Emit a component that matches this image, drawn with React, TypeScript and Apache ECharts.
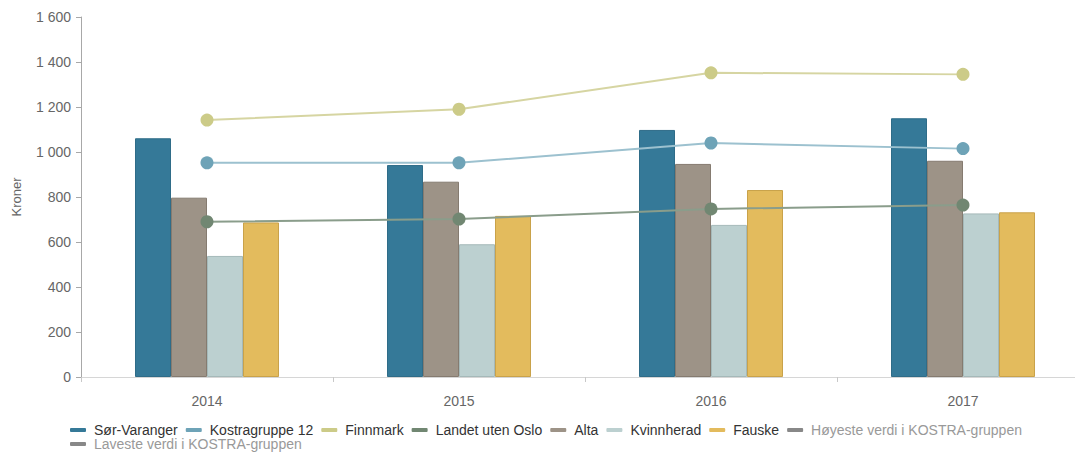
import React, { useEffect, useRef } from "react";
import * as echarts from "echarts";

const years = ["2014", "2015", "2016", "2017"];
const sorVaranger = [1061, 942, 1098, 1150];
const kostragruppe12 = [952, 952, 1040, 1015];
const finnmark = [1142, 1190, 1352, 1345];
const landetUtenOslo = [690, 702, 747, 764];
const alta = [797, 868, 947, 961];
const kvinnherad = [538, 590, 676, 727];
const fauske = [687, 716, 831, 732];
const yTicks = [0, 200, 400, 600, 800, 1000, 1200, 1400, 1600];

const FONT = "'Liberation Sans', Arial, sans-serif";

function fmt(v: number): string {
  return String(v).replace(/\B(?=(\d{3})+(?!\d))/g, " ");
}

export default function App() {
  const ref = useRef<HTMLDivElement>(null);
  useEffect(() => {
    if (!ref.current) return;
    const chart = echarts.init(ref.current, undefined, { renderer: "svg" });
    const bar = (name: string, data: number[], color: string, border: string) => ({
      name,
      type: "bar",
      data,
      barWidth: 36,
      barGap: "0%",
      z: 2,
      itemStyle: { color, borderColor: border, borderWidth: 1 },
    });
    const line = (name: string, data: number[], color: string, lineColor: string) => ({
      name,
      type: "line",
      data,
      z: 4,
      symbol: "circle",
      symbolSize: 13,
      showSymbol: true,
      itemStyle: { color },
      lineStyle: { color: lineColor, width: 2 },
    });
    const legendCommon = {
      orient: "horizontal",
      left: 70,
      padding: 0,
      icon: "roundRect",
      itemWidth: 16,
      itemHeight: 4,
      itemGap: 8,
      itemStyle: { borderWidth: 0 },
      textStyle: {
        fontFamily: FONT,
        fontSize: 14,
        color: "#333333",
        lineHeight: 16,
        padding: [0, 0, 0, 3],
      },
    };
    chart.setOption({
      animation: false,
      grid: { left: 81, top: 17, width: 1008, height: 360, containLabel: false },
      legend: [
        {
          ...legendCommon,
          top: 422,
          data: [
            "Sør-Varanger",
            "Kostragruppe 12",
            "Finnmark",
            "Landet uten Oslo",
            "Alta",
            "Kvinnherad",
            "Fauske",
            { name: "Høyeste verdi i KOSTRA-gruppen", textStyle: { color: "#999999" } },
          ],
        },
        {
          ...legendCommon,
          top: 436,
          data: [{ name: "Laveste verdi i KOSTRA-gruppen", textStyle: { color: "#999999" } }],
        },
      ],
      xAxis: {
        type: "category",
        data: years,
        axisLine: { show: true, lineStyle: { color: "#d6d6d6", width: 1 } },
        axisTick: { show: true, length: 5, lineStyle: { color: "#c8c8c8" } },
        axisLabel: { color: "#666666", fontSize: 14, fontFamily: FONT, margin: 17 },
        splitLine: { show: false },
      },
      yAxis: {
        type: "value",
        min: yTicks[0],
        max: yTicks[yTicks.length - 1],
        interval: 200,
        name: "Kroner",
        nameLocation: "middle",
        nameGap: 58,
        nameTextStyle: { color: "#666666", fontSize: 13, fontFamily: FONT },
        axisLine: { show: true, lineStyle: { color: "#a8a8a8", width: 1 } },
        axisTick: { show: true, length: 5, lineStyle: { color: "#a8a8a8" } },
        axisLabel: {
          color: "#666666",
          fontSize: 14,
          fontFamily: FONT,
          margin: 10,
          formatter: (v: number) => fmt(v),
        },
        splitLine: { show: false },
      },
      series: [
        bar("Sør-Varanger", sorVaranger, "#357998", "#2f6c88"),
        line("Kostragruppe 12", kostragruppe12, "#6ea3b7", "#9cc1cf"),
        line("Finnmark", finnmark, "#cccb88", "#d6d5a2"),
        line("Landet uten Oslo", landetUtenOslo, "#718772", "#8a9d8b"),
        bar("Alta", alta, "#9d9387", "#857b70"),
        bar("Kvinnherad", kvinnherad, "#bcd0d0", "#a5b9b9"),
        bar("Fauske", fauske, "#e3bb5d", "#c9a24a"),
        {
          name: "Høyeste verdi i KOSTRA-gruppen",
          type: "line",
          data: [],
          itemStyle: { color: "#888888" },
          lineStyle: { color: "#888888" },
        },
        {
          name: "Laveste verdi i KOSTRA-gruppen",
          type: "line",
          data: [],
          itemStyle: { color: "#888888" },
          lineStyle: { color: "#888888" },
        },
      ],
    });
    return () => chart.dispose();
  }, []);
  return (
    <div
      style={{
        position: "fixed",
        left: 0,
        top: 0,
        width: 1075,
        height: 454,
        overflow: "hidden",
        background: "#ffffff",
      }}
    >
      <div ref={ref} style={{ width: 1100, height: 454 }} />
    </div>
  );
}
